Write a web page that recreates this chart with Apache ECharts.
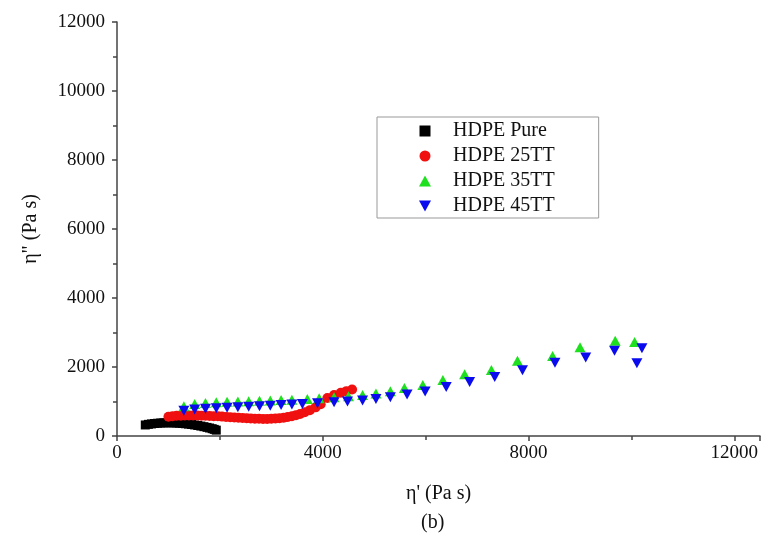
<!DOCTYPE html>
<html>
<head>
<meta charset="utf-8">
<script src="https://cdn.jsdelivr.net/npm/echarts@6/dist/echarts.min.js"></script>
<style>
  html, body { margin: 0; padding: 0; background: #fff; }
  #chart { width: 768px; height: 538px; }
</style>
</head>
<body>
<div id="chart"></div>
<script>
// eta' / eta'' values
const pureX = [550, 610, 670, 730, 790, 850, 910, 970, 1030, 1090, 1150, 1210, 1270, 1330, 1390, 1450, 1510, 1570, 1630, 1690, 1750, 1800, 1850, 1890, 1930]
const pureY = [320, 338, 350, 362, 370, 377, 381, 383, 383, 381, 377, 371, 364, 355, 345, 333, 320, 305, 288, 270, 250, 232, 212, 192, 170]

const tt25X = [1000, 1080, 1160, 1240, 1320, 1400, 1480, 1560, 1640, 1720, 1800, 1880, 1960, 2040, 2120, 2200, 2280, 2360, 2440, 2520, 2600, 2680, 2760, 2840, 2920, 3000, 3080, 3160, 3240, 3320, 3400, 3480, 3560, 3650, 3750, 3860, 3960, 4090, 4220, 4350, 4460, 4570]
const tt25Y = [560, 575, 585, 590, 594, 596, 596, 594, 590, 586, 582, 576, 570, 562, 554, 546, 538, 530, 522, 515, 508, 502, 498, 496, 496, 500, 506, 516, 530, 550, 575, 605, 640, 690, 750, 830, 920, 1100, 1190, 1255, 1300, 1350]

const tt35X = [1300, 1510, 1720, 1930, 2140, 2350, 2560, 2770, 2980, 3190, 3400, 3700, 3930, 4220, 4500, 4774, 5034, 5314, 5587, 5945, 6335, 6758, 7278, 7785, 8468, 9001, 9685, 10062]
const tt35Y = [860, 925, 955, 975, 990, 1000, 1010, 1020, 1030, 1040, 1050, 1075, 1095, 1120, 1150, 1190, 1230, 1300, 1390, 1478, 1623, 1787, 1913, 2183, 2319, 2571, 2762, 2725]

const tt45X = [1300, 1510, 1720, 1930, 2140, 2350, 2560, 2770, 2980, 3190, 3400, 3604, 3898, 4220, 4481, 4774, 5034, 5314, 5639, 5990, 6400, 6855, 7343, 7883, 8514, 9112, 9672, 10205, 10107]
const tt45Y = [730, 770, 790, 805, 820, 835, 850, 865, 880, 895, 910, 930, 950, 975, 1000, 1030, 1070, 1120, 1200, 1290, 1420, 1565, 1710, 1905, 2120, 2275, 2470, 2541, 2106]

const seriesNames = ['HDPE Pure', 'HDPE 25TT', 'HDPE 35TT', 'HDPE 45TT']

const font = 'Liberation Serif, Times New Roman, serif'
const axisColor = '#444'
const downTriangle = 'path://M0,0 L10,0 L5,9 Z'

function pairs(xs, ys) {
  return xs.map((x, i) => [x, ys[i]])
}

const chart = echarts.init(document.getElementById('chart'))

chart.setOption({
  animation: false,
  backgroundColor: '#fff',
  textStyle: { fontFamily: font },
  grid: { left: 117, top: 22, right: 8, bottom: 102 },
  legend: {
    orient: 'vertical',
    left: 377,
    top: 117,
    padding: [4, 44, 2, 42],
    itemGap: 5,
    itemWidth: 12,
    itemHeight: 11,
    borderColor: '#999',
    borderWidth: 1,
    textStyle: { fontFamily: font, fontSize: 20, color: '#111', lineHeight: 20, padding: [0, 0, 0, 17] },
    data: [
      { name: seriesNames[0], icon: 'path://M0,0 L8,0 L8,8 L0,8 Z', itemStyle: { color: '#000' } },
      { name: seriesNames[1] },
      { name: seriesNames[2] },
      { name: seriesNames[3], icon: downTriangle }
    ]
  },
  xAxis: {
    type: 'value',
    min: 0,
    max: 12500,
    interval: 4000,
    name: "η' (Pa s)",
    nameLocation: 'middle',
    nameGap: 48,
    nameTextStyle: { fontFamily: font, fontSize: 20, color: '#111' },
    axisLine: { show: true, onZero: false, lineStyle: { color: axisColor, width: 1.5 } },
    axisTick: { show: true, length: 5, lineStyle: { color: axisColor, width: 1.5 } },
    minorTick: { show: true, splitNumber: 2, length: 4, lineStyle: { color: axisColor, width: 1.5 } },
    axisLabel: { fontFamily: font, fontSize: 19, color: '#111', margin: 8,
      formatter: v => (v % 4000 === 0 ? String(v) : '') },
    splitLine: { show: false }
  },
  yAxis: {
    type: 'value',
    min: 0,
    max: 12000,
    interval: 2000,
    name: 'η" (Pa s)',
    nameLocation: 'middle',
    nameGap: 76,
    nameTextStyle: { fontFamily: font, fontSize: 20, color: '#111' },
    axisLine: { show: true, onZero: false, lineStyle: { color: axisColor, width: 1.5 } },
    axisTick: { show: true, length: 5, lineStyle: { color: axisColor, width: 1.5 } },
    minorTick: { show: true, splitNumber: 2, length: 4, lineStyle: { color: axisColor, width: 1.5 } },
    axisLabel: { fontFamily: font, fontSize: 19, color: '#111', margin: 12, formatter: v => String(v) },
    splitLine: { show: false }
  },
  graphic: [{
    type: 'text',
    left: 421,
    top: 513,
    style: { text: '(b)', font: '20px ' + font, fill: '#111' }
  }],
  series: [
    {
      name: seriesNames[0], type: 'scatter', symbol: 'rect', symbolSize: 9,
      itemStyle: { color: '#000', opacity: 1 }, data: pairs(pureX, pureY)
    },
    {
      name: seriesNames[1], type: 'scatter', symbol: 'circle', symbolSize: 10,
      itemStyle: { color: '#f01010', opacity: 1 }, data: pairs(tt25X, tt25Y)
    },
    {
      name: seriesNames[2], type: 'scatter', symbol: 'triangle', symbolSize: [11, 10],
      itemStyle: { color: '#1ee01e', opacity: 1 }, data: pairs(tt35X, tt35Y)
    },
    {
      name: seriesNames[3], type: 'scatter', symbol: 'triangle', symbolSize: [11, 10], symbolRotate: 180,
      itemStyle: { color: '#0a0aee', opacity: 1 }, data: pairs(tt45X, tt45Y)
    }
  ]
})

window.addEventListener('resize', () => chart.resize())
</script>
</body>
</html>
